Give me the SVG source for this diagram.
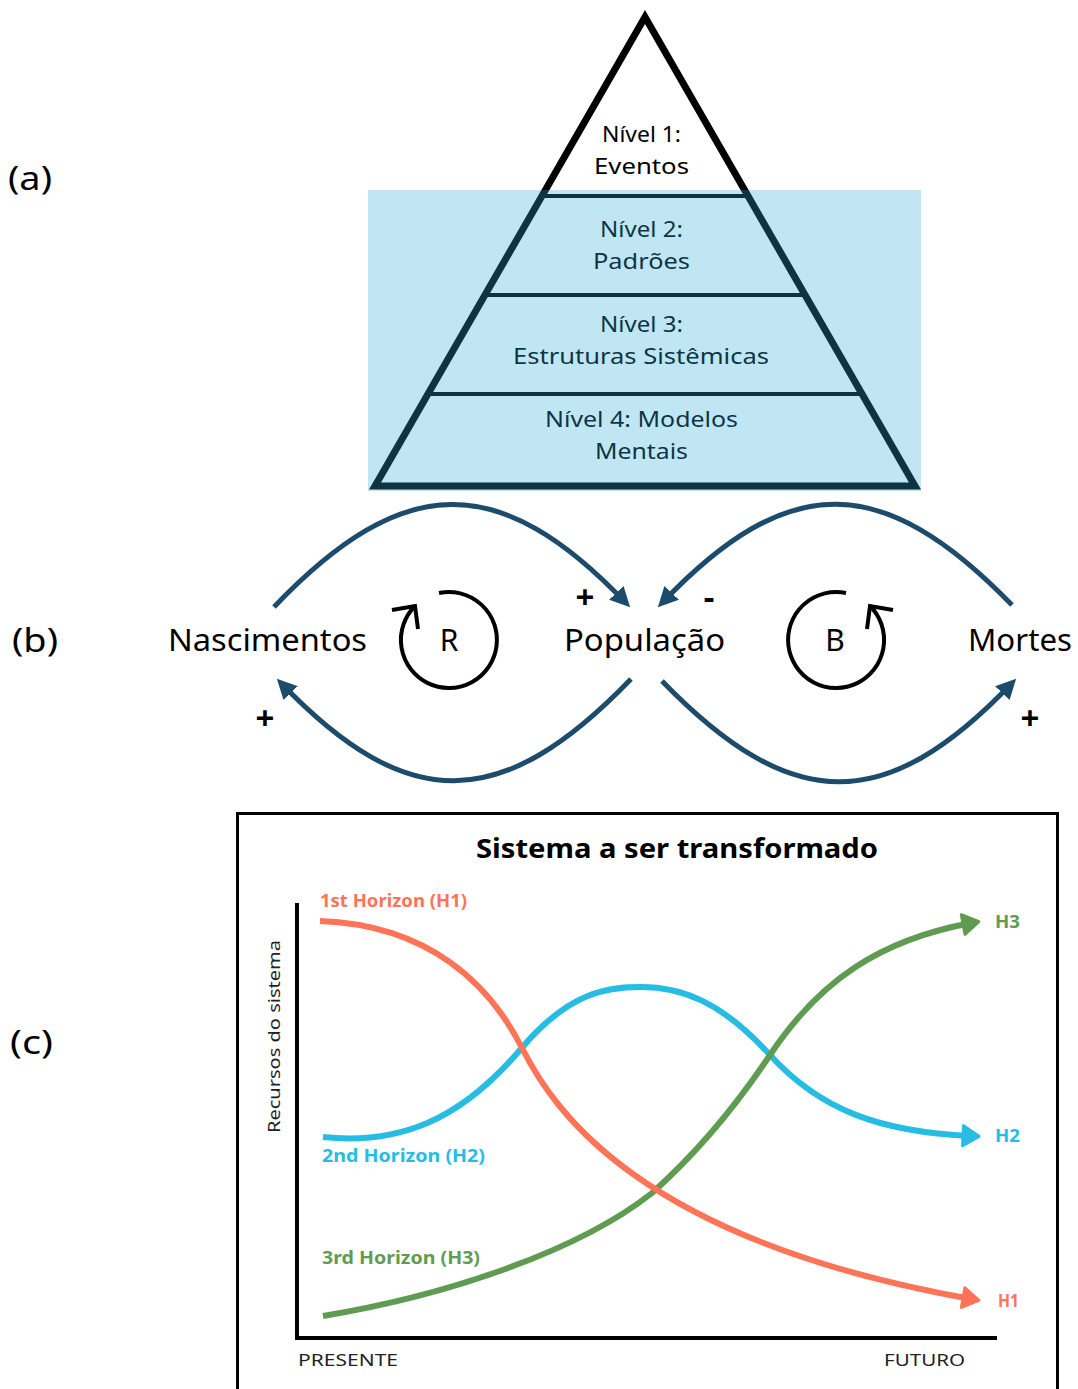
<svg xmlns="http://www.w3.org/2000/svg" width="1078" height="1389" viewBox="0 0 1078 1389">
<style>
text{font-family:"Noto Sans","Open Sans","Liberation Sans",sans-serif;fill:#000}
.pt{font-size:22px;text-anchor:middle}
.lab{font-size:32px}
.cl{font-size:30px}
.sg{font-size:33px;font-weight:bold;text-anchor:middle}
.ld{fill:none;stroke:#000;stroke-width:4}
.cb{fill:none;stroke:#1D4B6C;stroke-width:5}
.hb{font-size:17px;font-weight:bold}
.ax{font-size:17px;fill:#222}
.cur{fill:none;stroke-width:6}
</style>
<defs>
<marker id="ab" markerUnits="userSpaceOnUse" viewBox="0 -11 22 22" refX="14" refY="0" markerWidth="22" markerHeight="22" orient="auto"><path d="M0,-10 L20,0 L0,10 z" fill="#1D4B6C"/></marker>
<marker id="a1" markerUnits="userSpaceOnUse" viewBox="-3 -13 24 26" refX="8" refY="0" markerWidth="24" markerHeight="26" orient="auto"><path d="M0,-10 L16,0 L0,10 z" fill="#FF7357" stroke="#FF7357" stroke-width="3" stroke-linejoin="round"/></marker>
<marker id="a2" markerUnits="userSpaceOnUse" viewBox="-3 -13 24 26" refX="8" refY="0" markerWidth="24" markerHeight="26" orient="auto"><path d="M0,-10 L16,0 L0,10 z" fill="#27BDE3" stroke="#27BDE3" stroke-width="3" stroke-linejoin="round"/></marker>
<marker id="a3" markerUnits="userSpaceOnUse" viewBox="-3 -13 24 26" refX="8" refY="0" markerWidth="24" markerHeight="26" orient="auto"><path d="M0,-10 L16,0 L0,10 z" fill="#5F9C51" stroke="#5F9C51" stroke-width="3" stroke-linejoin="round"/></marker>
</defs>

<g id="labels">
<text class="lab" x="8" y="190" textLength="44" lengthAdjust="spacingAndGlyphs">(a)</text>
<text class="lab" x="12" y="652" textLength="46" lengthAdjust="spacingAndGlyphs">(b)</text>
<text class="lab" x="10" y="1054" textLength="43" lengthAdjust="spacingAndGlyphs">(c)</text>
</g>

<g id="pyramid">
<polygon points="645,17 375,486 915,486" fill="#fff" stroke="#000" stroke-width="7"/>
<line x1="542" y1="196" x2="748" y2="196" stroke="#000" stroke-width="4"/>
<line x1="485" y1="295" x2="805" y2="295" stroke="#000" stroke-width="4"/>
<line x1="428" y1="394" x2="862" y2="394" stroke="#000" stroke-width="4"/>
<g id="level1"><text class="pt" x="641.5" y="142" textLength="79" lengthAdjust="spacingAndGlyphs">Nível 1:</text><text class="pt" x="641.5" y="174" textLength="95" lengthAdjust="spacingAndGlyphs">Eventos</text></g>
<g id="level2"><text class="pt" x="641.5" y="237" textLength="83" lengthAdjust="spacingAndGlyphs">Nível 2:</text><text class="pt" x="641.5" y="269" textLength="97" lengthAdjust="spacingAndGlyphs">Padrões</text></g>
<g id="level3"><text class="pt" x="641.5" y="332" textLength="83" lengthAdjust="spacingAndGlyphs">Nível 3:</text><text class="pt" x="641" y="364" textLength="256" lengthAdjust="spacingAndGlyphs">Estruturas Sistêmicas</text></g>
<g id="level4"><text class="pt" x="641.5" y="427" textLength="193" lengthAdjust="spacingAndGlyphs">Nível 4: Modelos</text><text class="pt" x="641.5" y="459" textLength="93" lengthAdjust="spacingAndGlyphs">Mentais</text></g>
<rect id="water" x="368" y="190" width="553" height="301" fill="#2FADD9" fill-opacity="0.3"/>
</g>

<g id="nascimentos"><text class="cl" x="168" y="651" textLength="199" lengthAdjust="spacingAndGlyphs">Nascimentos</text></g>
<g id="populacao"><text class="cl" x="564" y="651" textLength="161" lengthAdjust="spacingAndGlyphs">População</text></g>
<g id="mortes"><text class="cl" x="968" y="651" textLength="104" lengthAdjust="spacingAndGlyphs">Mortes</text></g>
<g id="loopR">
<path class="ld" d="M439,593 A48,48 0 1 1 415,606"/>
<polyline class="ld" points="392,610 415,606 418,629"/>
<text class="cl" x="449" y="651" text-anchor="middle">R</text>
</g>
<g id="loopB">
<path class="ld" d="M846,593 A48,48 0 1 0 870,606"/>
<polyline class="ld" points="893,610 870,606 867,629"/>
<text class="cl" x="835" y="651" text-anchor="middle">B</text>
</g>

<g id="connectors">
<path class="cb" d="M274,607 C404,471 500,471 626,603" marker-end="url(#ab)"/>
<path class="cb" d="M631,679 C501,814 407,814 281,683" marker-end="url(#ab)"/>
<path class="cb" d="M1012,605 C882,471 788,471 662,603" marker-end="url(#ab)"/>
<path class="cb" d="M662,681 C792,815 886,815 1012,683" marker-end="url(#ab)"/>
<text class="sg" x="585" y="609">+</text>
<text class="sg" x="709" y="609">-</text>
<text class="sg" x="265" y="730">+</text>
<text class="sg" x="1030" y="730">+</text>
</g>

<g id="chart">
<rect x="237.5" y="813.5" width="820" height="600" fill="none" stroke="#000" stroke-width="3"/>
<text x="677" y="858" font-size="27" font-weight="bold" text-anchor="middle" textLength="402" lengthAdjust="spacingAndGlyphs">Sistema a ser transformado</text>
<line x1="297" y1="903" x2="297" y2="1340" stroke="#000" stroke-width="4"/>
<line x1="295" y1="1338" x2="997" y2="1338" stroke="#000" stroke-width="4"/>
<text class="ax" x="0" y="0" transform="translate(280,1133) rotate(-90)" font-size="18" textLength="193" lengthAdjust="spacingAndGlyphs">Recursos do sistema</text>
<text class="ax" x="298" y="1366" textLength="100" lengthAdjust="spacingAndGlyphs">PRESENTE</text>
<text class="ax" x="884" y="1366" textLength="81" lengthAdjust="spacingAndGlyphs">FUTURO</text>
<g id="h2">
<path class="cur" stroke="#27BDE3" d="M323,1137 C400,1145 460,1120 520,1050 C570,990 610,987 641,987 C680,987 720,1000 770,1055 C820,1110 880,1132 971,1136" marker-end="url(#a2)"/>
<text class="hb" x="322" y="1162" style="fill:#27BDE3" textLength="163" lengthAdjust="spacingAndGlyphs">2nd Horizon (H2)</text>
<text class="hb" x="995" y="1142" style="fill:#27BDE3" textLength="25" lengthAdjust="spacingAndGlyphs">H2</text>
</g>
<g id="h3">
<path class="cur" stroke="#5F9C51" d="M323,1316 C450,1295 580,1250 652,1193 C700,1150 740,1100 770,1055 C820,980 880,940 971,923" marker-end="url(#a3)"/>
<text class="hb" x="322" y="1264" style="fill:#5F9C51" textLength="158" lengthAdjust="spacingAndGlyphs">3rd Horizon (H3)</text>
<text class="hb" x="995" y="928" style="fill:#5F9C51" textLength="25" lengthAdjust="spacingAndGlyphs">H3</text>
</g>
<g id="h1">
<path class="cur" stroke="#FF7357" d="M320,921 C430,925 490,985 522,1048 C554,1111 640,1240 971,1299" marker-end="url(#a1)"/>
<text class="hb" x="320" y="907" style="fill:#FF7357" textLength="147" lengthAdjust="spacingAndGlyphs">1st Horizon (H1)</text>
<text class="hb" x="998" y="1307" style="fill:#FF7357" textLength="21" lengthAdjust="spacingAndGlyphs">H1</text>
</g>
</g>
</svg>
